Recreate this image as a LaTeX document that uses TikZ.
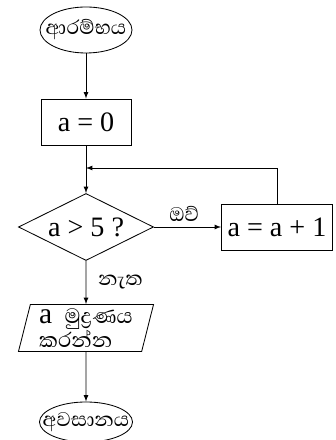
\documentclass[tikz,border=0pt]{standalone}
\usepackage{fontspec}
\setmainfont{Liberation Serif}
\newfontfamily\sinhala[Script=Sinhala, Scale=0.9]{Abhaya Libre}
\usetikzlibrary{shapes.geometric}
\newcommand{\tightword}[1]{\makebox[0pt]{\sinhala #1}}
\tikzset{
  flow/.style={draw, line width=0.6pt, inner sep=1pt},
  termbox/.style={flow, ellipse, inner sep=0pt, minimum width=2.3cm, minimum height=1.15cm},
  procbox/.style={flow, rectangle, minimum height=1.15cm},
  testbox/.style={flow, diamond, aspect=2, inner sep=0pt, minimum width=3.375cm, minimum height=1.675cm},
  iobox/.style={flow, trapezium, trapezium left angle=73, trapezium right angle=107,
    trapezium stretches body, inner sep=0pt, minimum width=3.375cm, minimum height=1.175cm, align=left},
  link/.style={line width=0.6pt, -latex}
}
\begin{document}
\begin{tikzpicture}[x=0.025cm, y=0.025cm, font=\fontsize{20}{22}\selectfont]
  \useasboundingbox (0, 0) rectangle (335, 440);
  \node[termbox] (start) at (86, 410) {\tightword{ආරම්භය}};
  \node[procbox, minimum width=2.25cm] (init) at (86, 318) {a = 0};
  \node[testbox] (test) at (86, 213) {a > 5 ?};
  \node[procbox, minimum width=2.775cm] (incr) at (277, 213) {a = a + 1};
  \node[iobox, font=\fontsize{21}{22}\selectfont] (print) at (86, 112)
    {a\, {\sinhala මුද්^^^^200dරණය}\\[-5pt]{\sinhala කරන්න}};
  \node[termbox, minimum width=2.325cm, minimum height=1cm] (stop) at (86, 18) {\tightword{අවසානය}};
  \coordinate (join) at (86, 272);
  \draw[link] (start) -- (init);
  \draw[link] (init) -- (test);
  \draw[link] (incr.north) |- (join);
  \draw[link] (test) -- node[above, pos=0.45] {\sinhala ඔව්} (incr);
  \draw[link] (test) -- node[right, xshift=5pt] {\sinhala නැත} (print);
  \draw[link] (print) -- (stop);
\end{tikzpicture}
\end{document}
